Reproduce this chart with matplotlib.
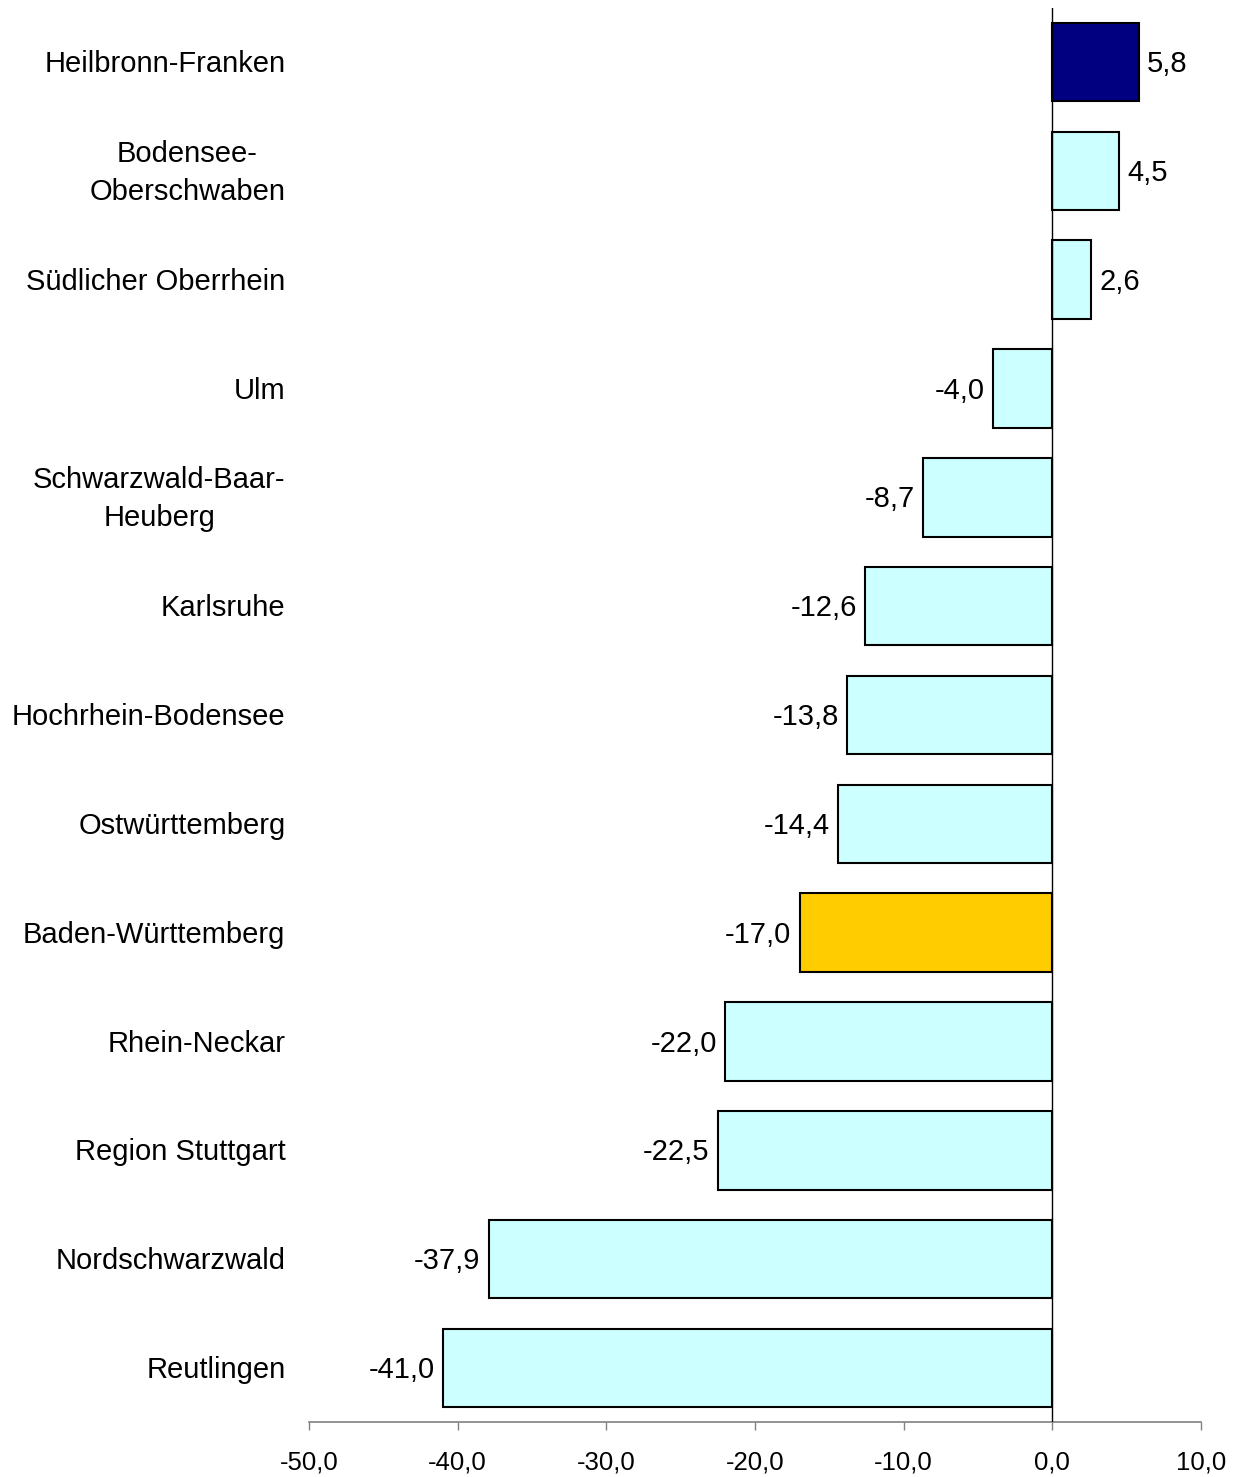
import matplotlib
matplotlib.use("Agg")
import matplotlib.pyplot as plt

plt.rcParams['font.family'] = ['Liberation Sans', 'DejaVu Sans']

regions = ["Heilbronn-Franken", "Bodensee-\nOberschwaben", "Südlicher Oberrhein", "Ulm",
           "Schwarzwald-Baar-\nHeuberg", "Karlsruhe", "Hochrhein-Bodensee", "Ostwürttemberg",
           "Baden-Württemberg", "Rhein-Neckar", "Region Stuttgart", "Nordschwarzwald", "Reutlingen"]
values = [5.8, 4.5, 2.6, -4.0, -8.7, -12.6, -13.8, -14.4, -17.0, -22.0, -22.5, -37.9, -41.0]
bar_colors = ["#000080"] + ["#CCFFFF"] * 7 + ["#FFCC00"] + ["#CCFFFF"] * 4
xticks = [-50, -40, -30, -20, -10, 0, 10]

fig = plt.figure(figsize=(12.38, 14.77), dpi=100)
ax = fig.add_axes([309 / 1238, 1 - 1422.4 / 1477, (1201 - 309) / 1238, (1422.4 - 7.6) / 1477])

pos = list(range(len(values)))
ax.barh(pos, values, height=0.72, color=bar_colors, edgecolor="black", linewidth=1.5, zorder=2)
ax.axvline(0, color="black", linewidth=1, zorder=3)

ax.set_xlim(-50, 10)
ax.set_ylim(len(values) - 0.5, -0.5)

# value labels next to the bar ends
for y, v in zip(pos, values):
    txt = f"{v:.1f}".replace(".", ",")
    if v >= 0:
        ax.annotate(txt, (v, y), xytext=(6, -1.5), textcoords="offset points",
                    ha="left", va="center", fontsize=21)
    else:
        ax.annotate(txt, (v, y), xytext=(-6, -1.5), textcoords="offset points",
                    ha="right", va="center", fontsize=21)

# category labels
for y, name in zip(pos, regions):
    ax.annotate(name, (0, y), xycoords=("axes fraction", "data"), xytext=(-17, -1.5),
                textcoords="offset points", ha="right", va="center",
                multialignment="center", linespacing=1.45, fontsize=21)

ax.set_yticks([])
ax.set_xticks(xticks)
ax.set_xticklabels([f"{t:.1f}".replace(".", ",") for t in xticks], fontsize=18.5)
ax.tick_params(axis="x", direction="out", length=6, width=1, color="#808080", pad=14)

for s in ["left", "right", "top"]:
    ax.spines[s].set_visible(False)
ax.spines["bottom"].set_color("#808080")
ax.spines["bottom"].set_linewidth(1.2)

fig.savefig("out.png", dpi=100)
